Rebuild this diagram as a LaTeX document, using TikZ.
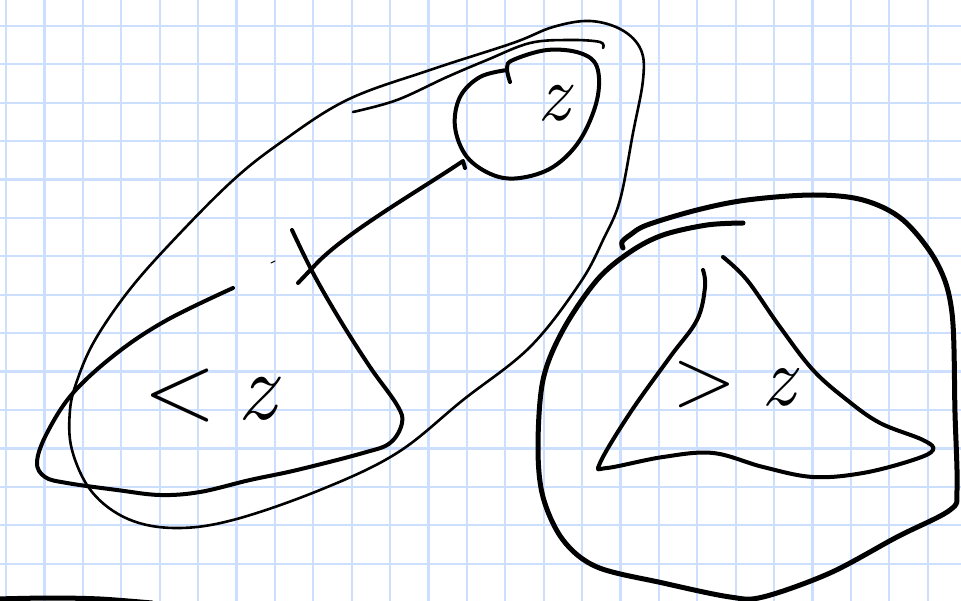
\documentclass[tikz,border=0pt]{standalone}
\usepackage{fontspec}
\definecolor{gridblue}{RGB}{204,223,255}
\begin{document}
\begin{tikzpicture}[
  x=1pt, y=-1pt,
  line cap=round, line join=round,
  gridline/.style={line width=2.2pt, draw=gridblue},
  faint/.style={line width=2.6pt},
  pen/.style={line width=4pt},
  heavy/.style={line width=5pt},
  hand/.style={inner sep=0pt},
]
\useasboundingbox (0,0) rectangle (961,601);
\fill[white] (0,0) rectangle (961,601);

% ── the squared paper ─────────────────────────────────────────────────────
\foreach \k in {0,...,24} { \draw[gridline] ({6+38.4*\k},0) -- ({6+38.4*\k},601); }
\foreach \k in {0,...,14} { \draw[gridline] (0,{26+38.4*\k}) -- (961,{26+38.4*\k}); }

% ── the long loop and its second top stroke ───────────────────────────────
\draw[faint] plot[smooth cycle, tension=0.6] coordinates {%
  (280,143) (347,100) (430,70) (513,43) (553,27) (590,21) (622,30) (641,50)
  (643,80) (633,133) (620,200) (604,238) (580,283) (530,347) (463,400)
  (397,453) (320,490) (233,520) (175,528) (128,519) (92,492) (72,450)
  (70,410) (78,378) (95,340) (127,293) (167,247) (230,183)};
\draw[faint] plot[smooth, tension=0.6] coordinates {%
  (353,112) (397,100) (447,77) (487,60) (530,43) (570,40) (600,42) (603,48)};

% ── the lower part, < z ───────────────────────────────────────────────────
\draw[pen] plot[smooth, tension=0.6] coordinates {%
  (233,288) (167,320) (117,353) (73,393) (47,433) (37,462) (45,477) (67,483)
  (117,490) (160,495) (200,492) (250,480) (297,470) (363,453) (390,443)
  (402,423) (397,405) (370,367) (340,320) (313,273) (292,230)};
\draw[line width=1pt] (271,263) -- (275,261);
\node[hand, anchor=base west, font=\fontsize{96}{96}\selectfont] (lower)
  at (143,420) {<\kern.22em\itshape z};

% ── the small circle, z ───────────────────────────────────────────────────
\draw[pen] plot[smooth, tension=0.6] coordinates {%
  (507,70) (480,77) (460,97) (455,127) (467,157) (493,175) (520,178)
  (553,167) (580,140) (597,100) (597,67) (580,53) (547,50) (513,60)
  (507,68) (510,82)};
\node[hand, anchor=base, font=\fontsize{80}{80}\selectfont\itshape] (point)
  at (553,121) {z};

% ── the link from the circle down to the lower part ───────────────────────
\coordinate (hook) at (465,168);
\coordinate (foot) at (298,283);
\draw[pen] (hook) -- (463,161) .. controls (420,190) and (350,230) .. (318,262)
  -- (foot);

% ── the rounded box and the upper part, > z ───────────────────────────────
\draw[heavy] plot[smooth, tension=0.55] coordinates {%
  (743,223) (707,225) (663,235) (630,252) (597,280) (563,330) (543,380)
  (538,447) (543,497) (563,540) (597,567) (663,583) (730,597) (763,597)
  (830,573) (897,537) (950,510) (957,490) (955,413) (952,313) (937,263)
  (903,220) (863,200) (813,195) (747,200) (697,210) (647,225) (630,235)
  (622,242) (623,248)};
\draw[pen] plot[smooth, tension=0.6] coordinates {%
  (703,270) (705,287) (697,320) (670,357) (630,413) (600,463) (607,468)
  (663,457) (713,453) (763,467) (813,477) (863,473) (913,460) (933,450)
  (923,440) (880,423) (847,400) (813,370) (780,327) (747,280) (723,257)};
\node[hand, anchor=base west, font=\fontsize{84}{84}\selectfont] (upper)
  at (672,406) {>\kern.3em\itshape z};

% ── the stroke at the lower edge ──────────────────────────────────────────
\draw[heavy] plot[smooth] coordinates {(-4,599) (50,598) (100,599) (152,603)};

\end{tikzpicture}
\end{document}
